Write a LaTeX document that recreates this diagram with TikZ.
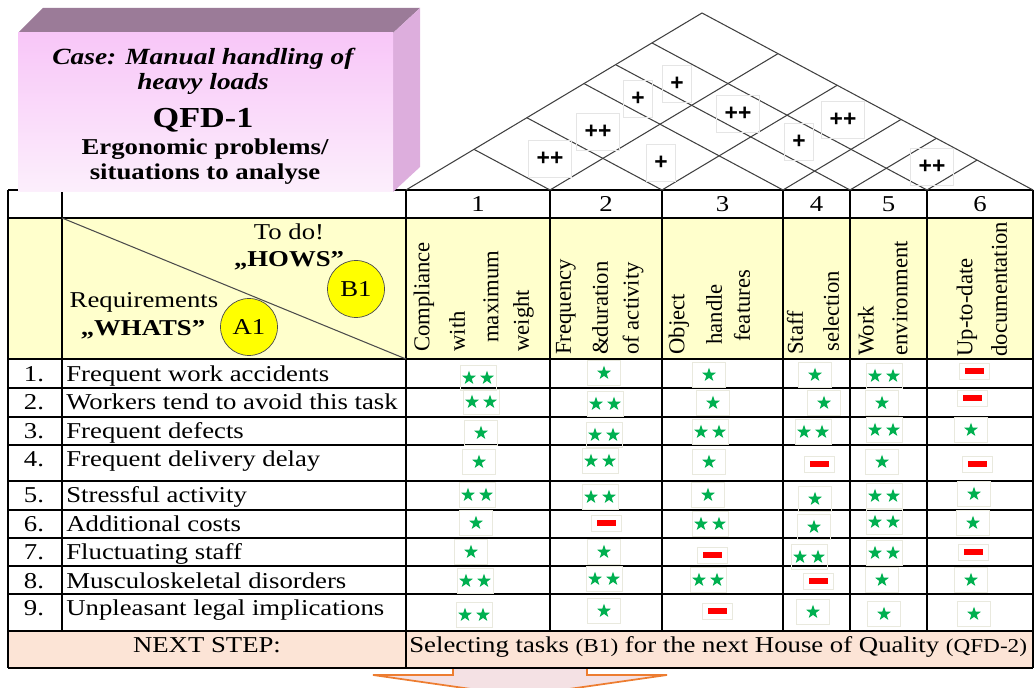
\documentclass[tikz,border=0pt]{standalone}
\usepackage{fontspec}
\setmainfont{Liberation Serif}[FakeStretch=1.18]
\newfontfamily\upfont{Liberation Serif}
\newfontfamily\plusfont{Liberation Sans}
\usetikzlibrary{shapes.geometric,calc}
\definecolor{qfdyellow}{HTML}{FFFFCC}
\definecolor{qfdpeach}{HTML}{FCE4D6}
\definecolor{qfdgreen}{HTML}{00B050}
\definecolor{qfdred}{HTML}{FF0000}
\definecolor{qfdorange}{HTML}{ED7D31}
\definecolor{qfdpink}{HTML}{F4E1E4}
\definecolor{qfdball}{HTML}{FFFF00}
\definecolor{boxtop}{HTML}{9B7B98}
\definecolor{boxside}{HTML}{DDAEDD}
\definecolor{boxfront}{HTML}{F8C6F8}
\definecolor{boxfrontlow}{HTML}{FCEFFC}
\definecolor{cellgray}{HTML}{E9E9DE}
\newcommand\qfdsize{\fontsize{12.9}{15}\selectfont}
\tikzset{
  grid/.style={draw=black, line width=0.7pt},
  roof/.style={draw=black!75, line width=0.6pt},
  rowtext/.style={anchor=base west, inner sep=0pt, font=\qfdsize},
  numtext/.style={anchor=base, inner sep=0pt, font=\qfdsize},
  howtext/.style={rotate=90, anchor=west, inner sep=0pt, font=\upfont\qfdsize},
  titleline/.style={anchor=base, inner sep=0pt},
  badge/.style={circle, draw=black!70, fill=qfdball, minimum size=1.14cm,
    inner sep=0pt, font=\qfdsize},
  cellbox/.style={draw=cellgray, line width=0.5pt, minimum width=0.72cm,
    minimum height=0.5cm, inner sep=0pt},
  dashbox/.style={cellbox, minimum width=0.6cm, minimum height=0.32cm},
  starmark/.style={star, star points=5, star point ratio=2.5, fill=qfdgreen,
    minimum size=0.29cm, inner sep=0pt},
  dashmark/.style={fill=qfdred, minimum width=0.38cm, minimum height=0.11cm,
    inner sep=0pt},
  plusbox/.style={draw=black!10, line width=0.5pt, inner xsep=0.16cm,
    minimum height=0.74cm, font=\plusfont\bfseries\fontsize{13}{13}\selectfont},
  bigarrow/.style={draw=qfdorange, fill=qfdpink, line width=1pt},
}

\begin{document}
\begin{tikzpicture}[x=0.02cm, y=-0.02cm]
\useasboundingbox (0,0) rectangle (1034,688);

% arrow to the next house of quality
\draw[bigarrow] (453,668) -- (453,675) -- (373,675) -- (520,696) -- (667,675)
  -- (587,675) -- (587,668) -- cycle;

% fills
\fill[qfdyellow] (8,218) rectangle (1033,359);
\fill[qfdpeach] (8,631) rectangle (1033,668);

% table
\foreach \y in {190,218,359,388,417,445,481,510,538,566,594,631,668}
  \draw[grid] (8,\y) -- (1033,\y);
\foreach \x in {8,406,1033}
  \draw[grid] (\x,190) -- (\x,668);
\foreach \x in {62,550,662,783,850,927}
  \draw[grid] (\x,190) -- (\x,631);
\draw[draw=black!70, line width=0.6pt] (62,218) -- (406,359);

% roof
\coordinate (L) at (406,190);
\coordinate (R) at (1033,190);
\coordinate (A) at (702,13);
\draw[roof] (L) -- (A) -- (R);
\foreach \b in {550,662,783,850,927}
  \draw[roof] ($(L)!{(\b-406)/627}!(A)$) -- (\b,190) -- ($(R)!{(1033-\b)/627}!(A)$);

\foreach \x/\y/\p [count=\i] in {550/159/++, 598/132/++, 638/99/+, 677/84/+,
    738/114/++, 661/163/+, 799/142/+, 843/120/++, 932/167/++}
  \node[plusbox] (plus\i) at (\x,\y) {\p};

% case box
\fill[boxtop] (18,33) -- (43,8) -- (420,8) -- (393,33) -- cycle;
\fill[boxside] (393,33) -- (420,8) -- (420,167) -- (393,192) -- cycle;
\shade[top color=boxfront, bottom color=boxfrontlow] (18,33) rectangle (393,192);
\node[titleline, font=\bfseries\itshape\fontsize{13.2}{15}\selectfont] (case1)
  at (203,65) {Case: Manual handling of};
\node[titleline, font=\bfseries\itshape\fontsize{13.2}{15}\selectfont] (case2)
  at (203,90) {heavy loads};
\node[titleline, font=\bfseries\fontsize{16.5}{18}\selectfont] (qfd)
  at (203,128) {QFD-1};
\node[titleline, font=\bfseries\fontsize{12.9}{15}\selectfont] (ergo1)
  at (205,155) {Ergonomic problems/};
\node[titleline, font=\bfseries\fontsize{12.9}{15}\selectfont] (ergo2)
  at (205,180) {situations to analyse};

% header
\foreach \x [count=\i] in {478,606,722.5,816.5,888.5,980}
  \node[numtext] (col\i) at (\x,212) {\i};

\node[numtext] (todo) at (289,240) {To do!};
\node[numtext, font=\qfdsize\bfseries] (hows) at (289,267) {„HOWS”};
\node[numtext] (reqs) at (144,308) {Requirements};
\node[numtext, font=\qfdsize\bfseries] (whats) at (143,336) {„WHATS”};
\node[badge] (a1) at (249,327) {A1};
\node[badge] (b1) at (356,289) {B1};

\foreach \x/\y/\txt [count=\i] in {424/352/Compliance, 457/352/with,
    491/343/maximum, 523.5/352/weight, 566/355/Frequency, 600/355/\&duration,
    633/355/of activity, 679/355/Object, 714/345/handle, 742/342/features,
    795/355/Staff, 831/352/selection, 866/356/Work, 900/356/environment,
    967/357/Up-to-date, 999/357/documentation}
  \node[howtext] (how\i) at (\x,\y) {\txt};

% requirements
\foreach \top/\txt [count=\i] in {360/Frequent work accidents,
    388/Workers tend to avoid this task, 417/Frequent defects,
    445/Frequent delivery delay, 481/Stressful activity, 510/Additional costs,
    538/Fluctuating staff, 566/Musculoskeletal disorders,
    594/Unpleasant legal implications} {
  \node[numtext] (nr\i) at (34,\top+22) {\i.};
  \node[rowtext] (req\i) at (66,\top+22) {\txt};
}

% relationship matrix
\foreach \x/\y [count=\i] in {604/373, 709/375, 815/375, 713/403, 824/403,
    882/403, 481/433, 971/430, 479/462, 709/462, 882/462, 708/495, 815/499,
    974/494, 476/523, 814/527, 973/523, 471/552, 604/552, 882/580, 971/580,
    604/611, 813/612, 884/614, 974/614} {
  \node[cellbox, minimum width=0.66cm] (one\i) at (\x,\y) {};
  \node[starmark] (onestar\i) at (\x,\y) {};
}
\foreach \x/\y [count=\i] in {478/378, 884/376, 481/402, 605/404, 604/435,
    710/432, 813/432, 884/430, 600/461, 477/495, 600/497, 884/496, 710/524,
    884/522, 809/557, 884/553, 475/581, 604/579, 708/580, 474/615} {
  \node[cellbox] (two\i) at (\x,\y) {};
  \node[starmark] (twostara\i) at (\x-9,\y) {};
  \node[starmark] (twostarb\i) at (\x+9,\y) {};
}
\foreach \x/\y [count=\i] in {974/371, 972/398, 819/464, 977/464, 606/523,
    712/555, 973/552, 818/581, 717/611} {
  \node[dashbox] (none\i) at (\x,\y) {};
  \node[dashmark] (nonebar\i) at (\x,\y) {};
}

% next step
\node[numtext] (next) at (207,652) {NEXT STEP:};
\node[rowtext] (select) at (409,652) {Selecting tasks
  {\fontsize{11.2}{13}\selectfont(B1)} for the next House of Quality
  {\fontsize{11.2}{13}\selectfont(QFD-2)}};

\end{tikzpicture}
\end{document}
